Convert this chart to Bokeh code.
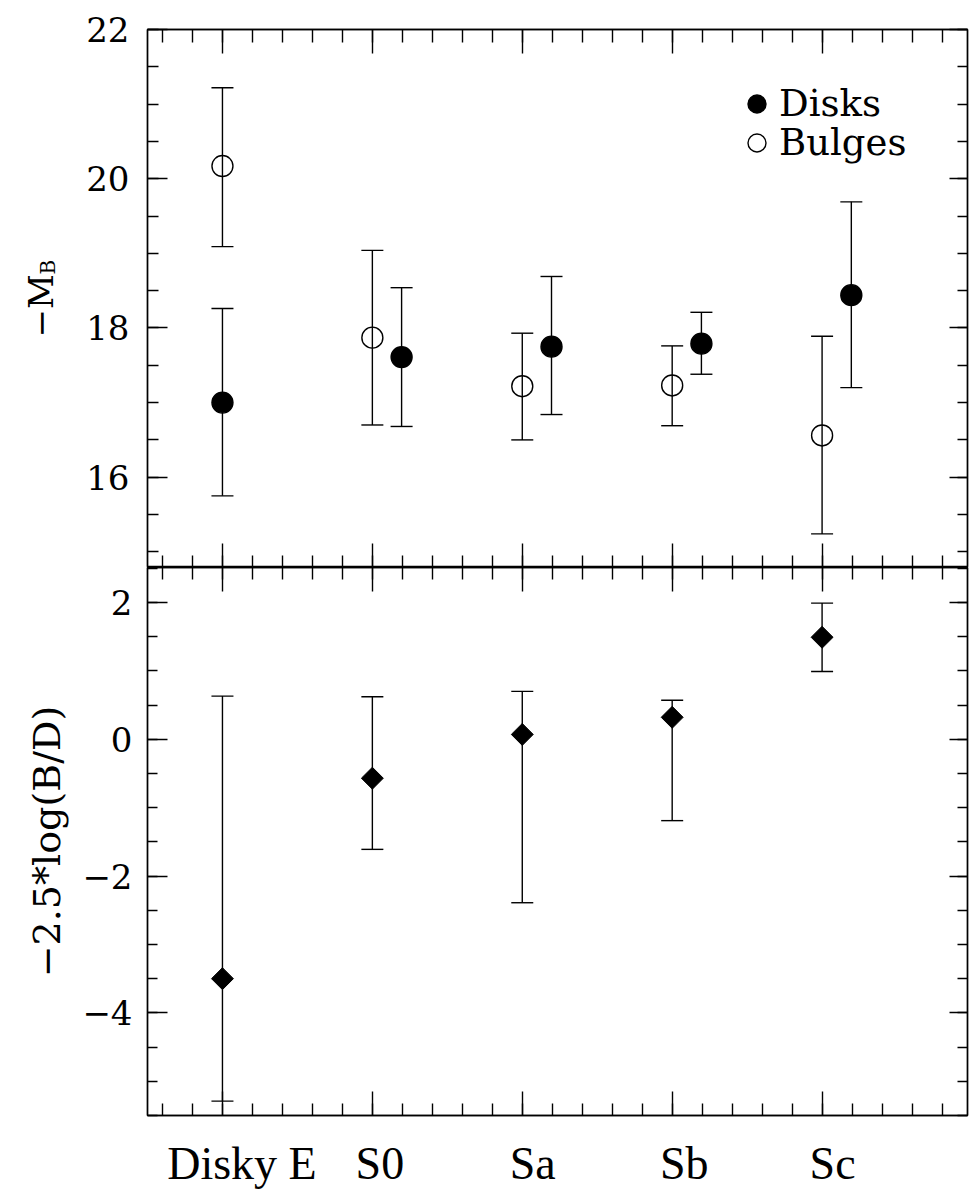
import numpy as np
from bokeh.plotting import figure
from bokeh.models import (Range1d, LinearAxis, SingleIntervalTicker, FixedTicker,
                          ColumnDataSource, Whisker, TeeHead, Label, Legend, LegendItem,
                          CustomLabelingPolicy)
from bokeh.layouts import column, row
from bokeh.embed import file_html
from bokeh.resources import INLINE

# ---------------- data ----------------
types = ["Disky E", "S0", "Sa", "Sb", "Sc"]
type_pos = [1, 2, 3, 4, 5]

bulge_mb = [20.17, 17.87, 17.22, 17.23, 16.56]
bulge_hi = [21.22, 19.04, 17.93, 17.76, 17.89]
bulge_lo = [19.09, 16.70, 16.50, 16.69, 15.24]

disk_mb = [17.00, 17.61, 17.75, 17.79, 18.44]
disk_hi = [18.26, 18.54, 18.69, 18.21, 19.69]
disk_lo = [15.75, 16.68, 16.84, 17.38, 17.20]

bd = [-3.50, -0.57, 0.07, 0.32, 1.49]
bd_hi = [0.63, 0.62, 0.70, 0.57, 1.99]
bd_lo = [-5.29, -1.61, -2.39, -1.19, 0.99]

legend_labels = ["Disks", "Bulges"]

# ---------------- style ----------------
disk_dodge = [0.0, 0.195, 0.195, 0.195, 0.195]
label_shift = [0.13, 0.05, 0.07, 0.08, 0.07]   # category label offset (x units)
FONT = "DejaVu Serif"
TICK_FS = "34px"
LW = 1.4
FW = 820
SIDE_W = 75
LEFT = 147 - SIDE_W
TOP = 29
H1, H2 = 538, 548
BOTTOM = 85
TOTAL_H = TOP + H1 + H2 + BOTTOM

x_disk = [p + d for p, d in zip(type_pos, disk_dodge)]
label_x = [round(p + s, 3) for p, s in zip(type_pos, label_shift)]

xr = Range1d(0.5, 5.97)

hide_all = CustomLabelingPolicy(code="""
for (const i of indices) { indices.unset(i) }
return indices
""")


def add_axis(p, side, ticker, tin, tmin, labels=False, overrides=None, standoff=15):
    ax = LinearAxis(ticker=ticker)
    ax.major_tick_in = tin
    ax.major_tick_out = 0
    ax.minor_tick_in = tmin
    ax.minor_tick_out = 0
    ax.axis_line_color = "black"
    ax.axis_line_width = LW
    ax.major_tick_line_color = "black"
    ax.minor_tick_line_color = "black"
    ax.major_tick_line_width = LW
    ax.minor_tick_line_width = LW
    if labels:
        ax.major_label_text_font = FONT
        ax.major_label_text_font_size = TICK_FS
        ax.major_label_text_color = "black"
        ax.major_label_standoff = standoff
        if overrides:
            ax.major_label_overrides = overrides
    else:
        ax.major_label_text_font_size = "0px"
        ax.major_label_standoff = 0
        ax.major_label_policy = hide_all
    p.add_layout(ax, side)
    return ax


def base_fig(fh, yr, top, bottom):
    p = figure(frame_width=FW, frame_height=fh, x_range=xr, y_range=yr,
               output_backend="svg", toolbar_location=None,
               x_axis_location=None, y_axis_location=None,
               min_border_left=LEFT, min_border_right=4,
               min_border_top=top, min_border_bottom=bottom)
    p.xgrid.visible = False
    p.ygrid.visible = False
    p.outline_line_color = "black"
    p.outline_line_width = LW
    p.background_fill_color = "white"
    p.border_fill_color = "white"
    return p


def xt():
    return SingleIntervalTicker(interval=1, num_minor_ticks=5)


def yt():
    return SingleIntervalTicker(interval=2, num_minor_ticks=4)


def heads():
    return dict(upper_head=TeeHead(size=22, line_color="black", line_width=LW),
                lower_head=TeeHead(size=22, line_color="black", line_width=LW))


def one_item_legend(label, renderer, loc):
    lg = Legend(items=[LegendItem(label=label, renderers=[renderer])], location=loc)
    lg.label_text_font = FONT
    lg.label_text_font_size = "37px"
    lg.label_text_color = "black"
    lg.glyph_width = 45
    lg.glyph_height = 45
    lg.padding = 0
    lg.margin = 0
    lg.label_standoff = 0
    lg.border_line_color = None
    lg.background_fill_alpha = 0
    return lg


# ---------------- top panel ----------------
p1 = base_fig(H1, Range1d(14.79, 22.0), TOP, 0)
add_axis(p1, "left", yt(), 20, 11, labels=True, standoff=18)
add_axis(p1, "right", yt(), 18, 10)
add_axis(p1, "above", xt(), 24, 13)
add_axis(p1, "below", xt(), 24, 12)

src_b = ColumnDataSource(dict(x=type_pos, y=bulge_mb, hi=bulge_hi, lo=bulge_lo))
src_d = ColumnDataSource(dict(x=x_disk, y=disk_mb, hi=disk_hi, lo=disk_lo))

for src in (src_b, src_d):
    p1.add_layout(Whisker(source=src, base="x", upper="hi", lower="lo", dimension="height",
                          line_color="black", line_width=LW, **heads()))

r_b = p1.scatter("x", "y", source=src_b, marker="circle", size=21,
                 fill_color=None, line_color="black", line_width=LW)
r_d = p1.scatter("x", "y", source=src_d, marker="circle", size=21,
                 fill_color="black", line_color="black", line_width=LW)

p1.add_layout(one_item_legend(legend_labels[0], r_d, (587, 441)))
p1.add_layout(one_item_legend(legend_labels[1], r_b, (587, 402)))

# ---------------- bottom panel ----------------
p2 = base_fig(H2, Range1d(-5.5, 2.51), 0, BOTTOM)
add_axis(p2, "left", yt(), 20, 10, labels=True, standoff=15,
         overrides={-4: "\u22124", -2: "\u22122"})
add_axis(p2, "right", yt(), 18, 10)
add_axis(p2, "above", xt(), 24, 12)
add_axis(p2, "below", xt(), 24, 12)

cat_ax = LinearAxis(ticker=FixedTicker(ticks=label_x, minor_ticks=[]))
cat_ax.major_tick_in = 0
cat_ax.major_tick_out = 0
cat_ax.axis_line_color = None
cat_ax.major_label_overrides = {x: t for x, t in zip(label_x, types)}
cat_ax.major_label_text_font = "Liberation Serif"
cat_ax.major_label_text_font_size = "46px"
cat_ax.major_label_text_color = "black"
cat_ax.major_label_standoff = 22
p2.add_layout(cat_ax, "below")

src_r = ColumnDataSource(dict(x=type_pos, y=bd, hi=bd_hi, lo=bd_lo))
p2.add_layout(Whisker(source=src_r, base="x", upper="hi", lower="lo", dimension="height",
                      line_color="black", line_width=LW, **heads()))
p2.scatter("x", "y", source=src_r, marker="square", angle=np.pi / 4, size=15.5,
           fill_color="black", line_color="black", line_width=1)

# ---------------- side strip with the y titles ----------------
side = figure(width=SIDE_W, height=TOTAL_H, x_range=Range1d(0, SIDE_W),
              y_range=Range1d(0, TOTAL_H), output_backend="svg", toolbar_location=None,
              x_axis_location=None, y_axis_location=None, min_border=0)
side.xgrid.visible = False
side.ygrid.visible = False
side.outline_line_color = None
side.background_fill_color = "white"
side.border_fill_color = "white"

side.add_layout(Label(x=40, y=TOTAL_H - 337, x_units="screen", y_units="screen",
                      text="\u2212M", angle=np.pi / 2, text_align="left",
                      text_baseline="alphabetic", text_font=FONT, text_font_size="34px",
                      text_color="black"))
side.add_layout(Label(x=47, y=TOTAL_H - 274, x_units="screen", y_units="screen",
                      text="B", angle=np.pi / 2, text_align="left",
                      text_baseline="alphabetic", text_font=FONT, text_font_size="20px",
                      text_color="black"))
side.add_layout(Label(x=46, y=TOTAL_H - 841, x_units="screen", y_units="screen",
                      text="\u22122.5*log(B/D)", angle=np.pi / 2, text_align="center",
                      text_baseline="alphabetic", text_font=FONT, text_font_size="38px",
                      text_color="black"))

layout = row(side, column(p1, p2, spacing=0), spacing=0)
open("out.html", "w").write(file_html(layout, INLINE))
